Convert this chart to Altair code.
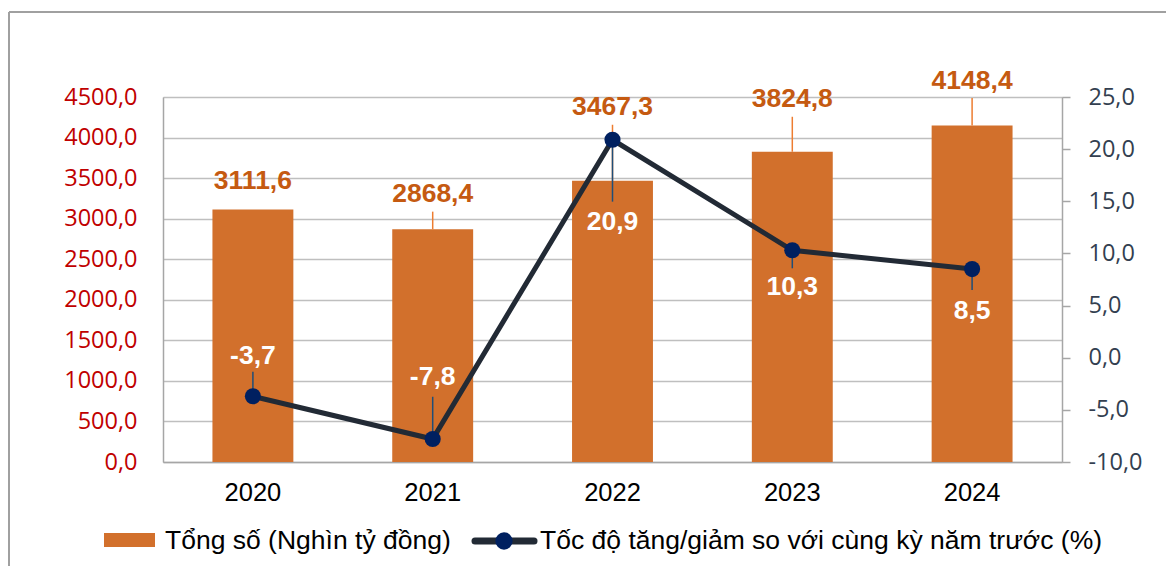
import altair as alt
import pandas as pd

# ---- data ----
years = ["2020", "2021", "2022", "2023", "2024"]
total = [3111.6, 2868.4, 3467.3, 3824.8, 4148.4]          # Nghìn tỷ đồng
growth = [-3.7, -7.8, 20.9, 10.3, 8.5]                    # %
left_ticks = [0, 500, 1000, 1500, 2000, 2500, 3000, 3500, 4000, 4500]
right_ticks = [-10, -5, 0, 5, 10, 15, 20, 25]
legend_bar = "Tổng số (Nghìn tỷ đồng)"
legend_line = "Tốc độ tăng/giảm so với cùng kỳ năm trước (%)"

# ---- label placement (pixels, positive = down) ----
bar_label_dy = [-28.6, -35, -74, -53, -44.5]
bar_leader_dy = [0, -17.7, -56, -35, -27.5]
line_label_dy = [-40.5, -62, 82.7, 36.7, 42]
line_leader_dy = [-24.6, -42.3, 61.9, 18, 21]

W, H = 899, 365
L_PER_PX = 4500 / H
R_PER_PX = 35 / H


def fmt(v):
    return f"{v:.1f}".replace(".", ",")


df = pd.DataFrame({
    "year": years,
    "total": total,
    "growth": growth,
    "total_lbl": [fmt(v) for v in total],
    "growth_lbl": [fmt(v) for v in growth],
    "b_dy": bar_label_dy,
    "b_ldy": bar_leader_dy,
    "l_dy": line_label_dy,
    "l_ldy": line_leader_dy,
})

num_expr = "replace(replace(format(datum.value, '.1f'), '.', ','), '\u2212', '-')"

x_enc = alt.X(
    "year:N",
    scale=alt.Scale(paddingInner=0, paddingOuter=0),
    axis=alt.Axis(
        title=None, ticks=False, labelPadding=30, labelBaseline="middle",
        labelFont="Liberation Sans", labelFontSize=25.5, labelColor="#000000",
        domainColor="#A6A6A6", domainWidth=1.5, grid=False, labelAngle=0,
    ),
)

left_scale = alt.Scale(domain=[0, 4500], nice=False, zero=False)
right_scale = alt.Scale(domain=[-10, 25], nice=False, zero=False)

left_axis = alt.Axis(
    title=None, orient="left", values=left_ticks, ticks=False, labelPadding=26,
    labelExpr=num_expr, labelFont="Open Sans", labelFontSize=23.5,
    labelColor="#C00000", domainColor="#A6A6A6", domainWidth=1.5,
    grid=True, gridColor="#BFBFBF", gridWidth=1.5,
)
right_axis = alt.Axis(
    title=None, orient="right", values=right_ticks, ticks=True, tickSize=8,
    tickColor="#A6A6A6", tickWidth=1.5, labelPadding=18,
    labelExpr=num_expr, labelFont="Open Sans", labelFontSize=23.5,
    labelColor="#333F50", domainColor="#A6A6A6", domainWidth=1.5, grid=False,
)


def yl(field):
    return alt.Y(field, type="quantitative", scale=left_scale, axis=left_axis)


def yr(field):
    return alt.Y(field, type="quantitative", scale=right_scale, axis=right_axis)


base = alt.Chart(df)

bars = base.mark_bar(color="#D2702C", width=alt.RelativeBandSize(0.45)).encode(
    x=x_enc, y=yl("total")
)
bar_leaders = base.transform_calculate(
    y1=f"datum.total - datum.b_ldy * {L_PER_PX}"
).mark_rule(color="#ED7D31", strokeWidth=1.5).encode(
    x=x_enc, y=yl("y1"), y2="total:Q"
)
bar_labels = base.transform_calculate(
    ly=f"datum.total - datum.b_dy * {L_PER_PX}"
).mark_text(
    font="Liberation Sans", fontSize=26.5, fontWeight="bold", color="#C55A11",
    baseline="middle", align="center",
).encode(x=x_enc, y=yl("ly"), text="total_lbl:N")

bar_group = alt.layer(bars, bar_leaders, bar_labels)

line = base.mark_line(color="#222A35", strokeWidth=5).encode(x=x_enc, y=yr("growth"))
pts = base.mark_point(filled=True, color="#002060", size=260, opacity=1).encode(
    x=x_enc, y=yr("growth")
)
line_leaders = base.transform_calculate(
    y1=f"datum.growth - datum.l_ldy * {R_PER_PX}"
).mark_rule(color="#1F4E79", strokeWidth=1.5).encode(
    x=x_enc, y=yr("y1"), y2="growth:Q"
)
line_labels = base.transform_calculate(
    ly=f"datum.growth - datum.l_dy * {R_PER_PX}"
).mark_text(
    font="Liberation Sans", fontSize=26.5, fontWeight="bold", color="#FFFFFF",
    baseline="middle", align="center",
).encode(x=x_enc, y=yr("ly"), text="growth_lbl:N")

line_group = alt.layer(line, line_leaders, pts, line_labels)

# ---- legend and frame (decoration) ----
one = alt.Chart(pd.DataFrame({"a": [0]}))
leg_rect = one.mark_rect(color="#D2702C").encode(
    x=alt.value(-59), x2=alt.value(-8), y=alt.value(436), y2=alt.value(450)
)
leg_t1 = one.mark_text(
    text=legend_bar, font="Liberation Sans", fontSize=26.5, color="#000000",
    align="left", baseline="alphabetic",
).encode(x=alt.value(2), y=alt.value(452))
leg_line = one.mark_rule(color="#222A35", strokeWidth=7, strokeCap="round").encode(
    x=alt.value(312), x2=alt.value(371), y=alt.value(444)
)
leg_pt = one.mark_point(filled=True, color="#002060", size=300, opacity=1).encode(
    x=alt.value(341), y=alt.value(444)
)
leg_t2 = one.mark_text(
    text=legend_line, font="Liberation Sans", fontSize=26.5, color="#000000",
    align="left", baseline="alphabetic",
).encode(x=alt.value(377), y=alt.value(452))
frame_top = one.mark_rule(color="#A0A0A0", strokeWidth=2).encode(
    x=alt.value(-154), x2=alt.value(1010), y=alt.value(-85)
)
frame_left = one.mark_rule(color="#A0A0A0", strokeWidth=2).encode(
    x=alt.value(-154), y=alt.value(-85), y2=alt.value(470)
)
deco = alt.layer(leg_rect, leg_t1, leg_line, leg_pt, leg_t2, frame_top, frame_left)

chart = alt.layer(bar_group, line_group, deco).resolve_scale(y="independent").properties(
    width=W, height=H,
    autosize=alt.AutoSizeParams(type="none"),
    padding={"left": 155, "top": 89, "right": 104, "bottom": 104},
).configure_view(stroke=None).configure(background="#FFFFFF")

chart.save("out.html", embed_options={"renderer": "svg", "actions": False})
